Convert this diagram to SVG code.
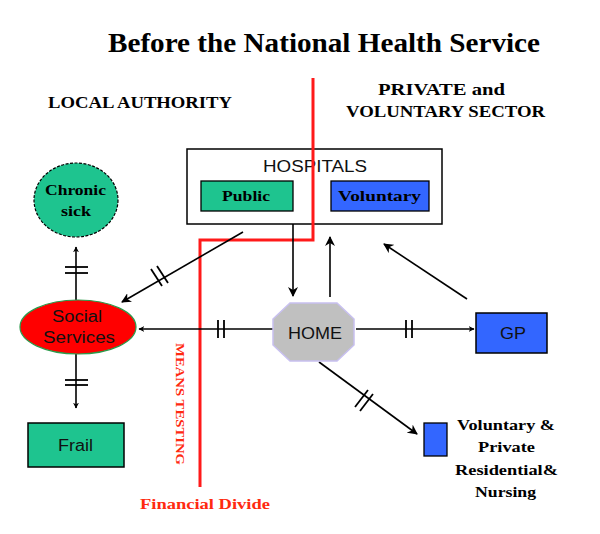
<svg xmlns="http://www.w3.org/2000/svg" width="600" height="534" viewBox="0 0 600 534">
<style>
.ser{font-family:"Liberation Serif","Times New Roman",serif;font-weight:bold;fill:#000}
.sans{font-family:"Liberation Sans",Arial,sans-serif;fill:#111}
.ln{stroke:#000;stroke-width:1.6;fill:none}
.bar{stroke:#000;stroke-width:1.8}
.red{stroke:#ff1a1a;stroke-width:3;fill:none}
.redt{font-family:"Liberation Serif","Times New Roman",serif;font-weight:bold;fill:#ff2a10}
</style>
<defs>
<marker id="ah" viewBox="0 0 10 10" refX="9" refY="5" markerWidth="6" markerHeight="6" orient="auto" markerUnits="userSpaceOnUse">
<path d="M0,0 L10,5 L0,10 L3,5 z" fill="#000"/>
</marker>
<marker id="ahl" viewBox="0 0 10 10" refX="9" refY="5" markerWidth="10" markerHeight="10" orient="auto" markerUnits="userSpaceOnUse">
<path d="M0,0 L10,5 L0,10 L3,5 z" fill="#000"/>
</marker>
</defs>
<rect width="600" height="534" fill="#fff"/>

<g id="title">
<text class="ser" x="108" y="52" font-size="28" textLength="432" lengthAdjust="spacingAndGlyphs">Before the National Health Service</text>
</g>
<g id="local-authority">
<text class="ser" x="48" y="108" font-size="16" textLength="184" lengthAdjust="spacingAndGlyphs">LOCAL AUTHORITY</text>
</g>
<g id="private-sector">
<text class="ser" x="378" y="95" font-size="16" textLength="127" lengthAdjust="spacingAndGlyphs">PRIVATE and</text>
<text class="ser" x="346" y="117" font-size="16" textLength="199" lengthAdjust="spacingAndGlyphs">VOLUNTARY SECTOR</text>
</g>

<g id="hospitals">
<rect x="187" y="149" width="255" height="75" fill="#fff" stroke="#000" stroke-width="1.5"/>
<text class="sans" x="263" y="172" font-size="16" textLength="104" lengthAdjust="spacingAndGlyphs">HOSPITALS</text>
</g>
<g id="public">
<rect x="201" y="181" width="92" height="30" fill="#1ec48f" stroke="#000" stroke-width="1.3"/>
<text class="ser" x="222" y="201" font-size="15" textLength="48" lengthAdjust="spacingAndGlyphs">Public</text>
</g>
<g id="voluntary">
<rect x="331" y="181" width="98" height="30" fill="#3366ff" stroke="#000" stroke-width="1.3"/>
<text class="ser" x="338" y="201" font-size="15" textLength="83" lengthAdjust="spacingAndGlyphs">Voluntary</text>
</g>

<g id="divide">
<polyline class="red" points="313,78 313,240 200,240 200,487"/>
<text class="redt" x="140" y="509" font-size="15" textLength="130" lengthAdjust="spacingAndGlyphs">Financial Divide</text>
<text class="redt" transform="translate(176,343) rotate(90)" font-size="13" textLength="122" lengthAdjust="spacingAndGlyphs">MEANS TESTING</text>
</g>

<g id="connectors">
<line class="ln" x1="76" y1="300" x2="76" y2="247" marker-end="url(#ah)"/>
<line class="bar" x1="65" y1="267" x2="88" y2="267"/>
<line class="bar" x1="65" y1="273" x2="88" y2="273"/>
<line class="ln" x1="76" y1="354" x2="76" y2="408" marker-end="url(#ah)"/>
<line class="bar" x1="65" y1="380" x2="88" y2="380"/>
<line class="bar" x1="65" y1="385" x2="88" y2="385"/>
<line class="ln" x1="273" y1="329" x2="139" y2="329" marker-end="url(#ah)"/>
<line class="bar" x1="218" y1="320" x2="218" y2="338"/>
<line class="bar" x1="224" y1="320" x2="224" y2="338"/>
<line class="ln" x1="356" y1="329" x2="474" y2="329" marker-end="url(#ah)"/>
<line class="bar" x1="406" y1="320" x2="406" y2="338"/>
<line class="bar" x1="412" y1="320" x2="412" y2="338"/>
<line class="ln" x1="293" y1="224" x2="293" y2="296" marker-end="url(#ahl)"/>
<line class="ln" x1="330" y1="297" x2="330" y2="237" stroke-width="2.6" marker-end="url(#ahl)"/>
<line class="ln" x1="467" y1="299" x2="384" y2="244" marker-end="url(#ahl)"/>
<line class="ln" x1="243" y1="232" x2="122" y2="302" marker-end="url(#ahl)"/>
<line class="bar" x1="151" y1="269" x2="162" y2="286"/>
<line class="bar" x1="157" y1="266" x2="168" y2="283"/>
<line class="ln" x1="319" y1="362" x2="417" y2="434" marker-end="url(#ahl)"/>
<line class="bar" x1="355" y1="407" x2="368" y2="390"/>
<line class="bar" x1="360" y1="411" x2="373" y2="394"/>
</g>

<g id="chronic-sick">
<ellipse cx="76" cy="200" rx="42" ry="37" fill="#1ec48f" stroke="#000" stroke-width="1.2" stroke-dasharray="3,1.5"/>
<text class="ser" x="45" y="195" font-size="15" textLength="61" lengthAdjust="spacingAndGlyphs">Chronic</text>
<text class="ser" x="61" y="216" font-size="15" textLength="30" lengthAdjust="spacingAndGlyphs">sick</text>
</g>
<g id="social-services">
<ellipse cx="78" cy="327" rx="58" ry="27" fill="#ff0000" stroke="#2a9a4a" stroke-width="1.2"/>
<text class="sans" x="52" y="322" font-size="16" textLength="50" lengthAdjust="spacingAndGlyphs">Social</text>
<text class="sans" x="43" y="343" font-size="16" textLength="72" lengthAdjust="spacingAndGlyphs">Services</text>
</g>
<g id="frail">
<rect x="28" y="423" width="96" height="44" fill="#1ec48f" stroke="#000" stroke-width="1.5"/>
<text class="sans" x="58" y="451" font-size="16" textLength="35" lengthAdjust="spacingAndGlyphs">Frail</text>
</g>
<g id="home">
<polygon points="290,303 337,303 354,319 354,345 337,361 290,361 273,345 273,319" fill="#c0c0c0" stroke="#c8c0f0" stroke-width="1.5"/>
<text class="sans" x="288" y="339" font-size="16" textLength="54" lengthAdjust="spacingAndGlyphs">HOME</text>
</g>
<g id="gp">
<rect x="476" y="313" width="71" height="40" fill="#3366ff" stroke="#000" stroke-width="1.5"/>
<text class="sans" x="500" y="339" font-size="16" textLength="26" lengthAdjust="spacingAndGlyphs">GP</text>
</g>
<g id="residential">
<rect x="424" y="423" width="23" height="33" fill="#3366ff" stroke="#000" stroke-width="1.3"/>
<text class="ser" x="457" y="430" font-size="14" textLength="98" lengthAdjust="spacingAndGlyphs">Voluntary &amp;</text>
<text class="ser" x="478" y="452" font-size="14" textLength="57" lengthAdjust="spacingAndGlyphs">Private</text>
<text class="ser" x="455" y="475" font-size="14" textLength="103" lengthAdjust="spacingAndGlyphs">Residential&amp;</text>
<text class="ser" x="475" y="497" font-size="14" textLength="61" lengthAdjust="spacingAndGlyphs">Nursing</text>
</g>
</svg>
